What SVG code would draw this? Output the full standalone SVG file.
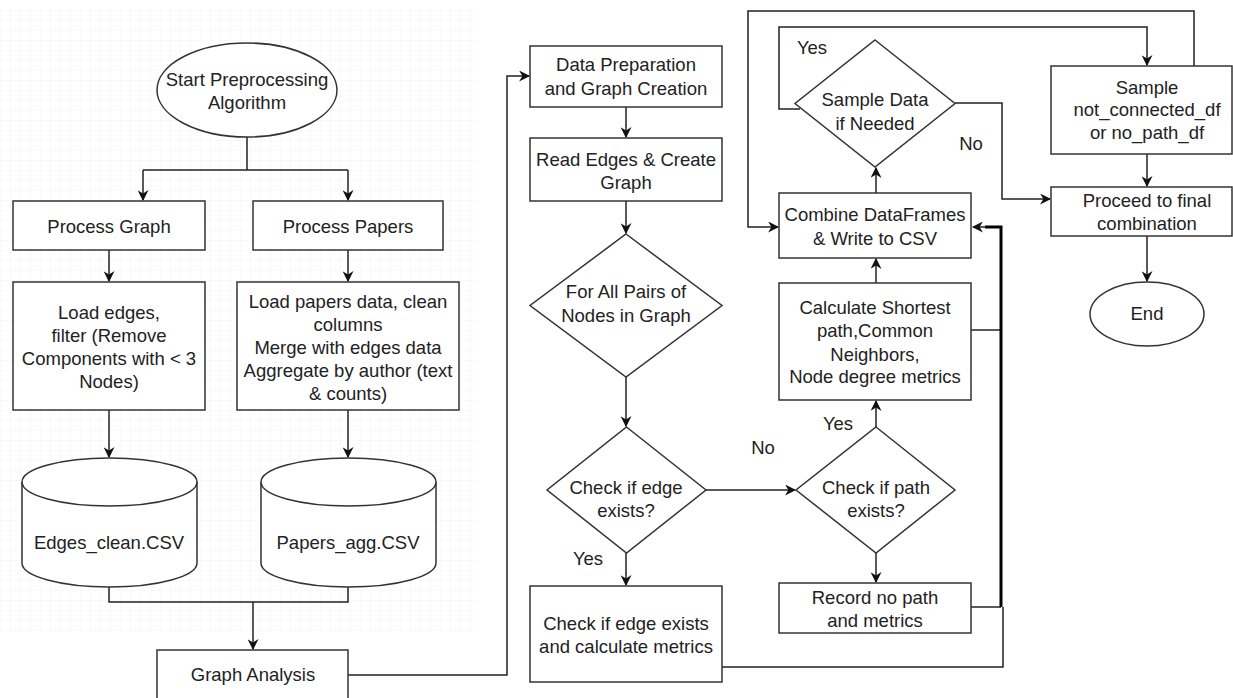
<svg xmlns="http://www.w3.org/2000/svg" width="1233" height="698" viewBox="0 0 1233 698">
<defs>
<pattern id="grid" width="10" height="10" patternUnits="userSpaceOnUse">
<path d="M10 0 L0 0 0 10" fill="none" stroke="#f3f3f3" stroke-width="1"/>
</pattern>
<marker id="arr" viewBox="0 0 10 10" refX="9" refY="5" markerWidth="11" markerHeight="11" markerUnits="userSpaceOnUse" orient="auto">
<path d="M0 0 L10 5 L0 10 L3 5 Z" fill="#111"/>
</marker>
</defs>
<style>
.n{fill:#fff;stroke:#333;stroke-width:1.5}
.t{font-family:"Liberation Sans",Arial,sans-serif;font-size:18.5px;fill:#222;text-anchor:middle;dominant-baseline:central}
.c{fill:none;stroke:#222;stroke-width:1.5}
</style>
<rect x="0" y="8" width="476" height="625" fill="url(#grid)"/>
<g id="connectors">
<path class="c" d="M247 137 V170 M143 170 H348" />
<path class="c" d="M143 170 V200" marker-end="url(#arr)"/>
<path class="c" d="M348 170 V200" marker-end="url(#arr)"/>
<path class="c" d="M109 250 V281" marker-end="url(#arr)"/>
<path class="c" d="M348 250 V281" marker-end="url(#arr)"/>
<path class="c" d="M109 410 V457" marker-end="url(#arr)"/>
<path class="c" d="M348 410 V457" marker-end="url(#arr)"/>
<path class="c" d="M109 587 V602 H348 V587"/>
<path class="c" d="M253 602 V649" marker-end="url(#arr)"/>
<path class="c" d="M348 675 H507 V76 H529" marker-end="url(#arr)"/>
<path class="c" d="M626 107 V137" marker-end="url(#arr)"/>
<path class="c" d="M626 201 V233" marker-end="url(#arr)"/>
<path class="c" d="M626 377 V426" marker-end="url(#arr)"/>
<path class="c" d="M706 490 H795" marker-end="url(#arr)"/>
<path class="c" d="M626 553 V585" marker-end="url(#arr)"/>
<path class="c" d="M876 427 V401" marker-end="url(#arr)"/>
<path class="c" d="M876 553 V582" marker-end="url(#arr)"/>
<path class="c" d="M876 283 V259" marker-end="url(#arr)"/>
<path class="c" d="M876 193 V168" marker-end="url(#arr)"/>
<path class="c" d="M722 667 H1003 V607"/>
<path class="c" d="M971 330 H1001"/>
<path class="c" d="M971 607 H1001"/>
<path fill="none" stroke="#000" stroke-width="3" d="M1001 607 V227 H985"/>
<path class="c" d="M986 227 H973" marker-end="url(#arr)"/>
<path class="c" d="M800 109 H779 V27 H1147 V65" marker-end="url(#arr)"/>
<path class="c" d="M1194 66 V11 H748 V227 H778" marker-end="url(#arr)"/>
<path class="c" d="M955 103 H1002 V199 H1050" marker-end="url(#arr)"/>
<path class="c" d="M1147 154 V186" marker-end="url(#arr)"/>
<path class="c" d="M1147 236 V281" marker-end="url(#arr)"/>
<text class="t" x="763" y="447">No</text>
<text class="t" x="588" y="558">Yes</text>
<text class="t" x="838" y="423">Yes</text>
<text class="t" x="812" y="47">Yes</text>
<text class="t" x="971" y="143">No</text>
</g>
<g id="start"><ellipse class="n" cx="247" cy="90" rx="90" ry="47"/><text class="t" x="247" y="79">Start Preprocessing</text><text class="t" x="247" y="102">Algorithm</text></g>
<g id="process-graph"><rect class="n" x="13" y="201" width="192" height="49"/><text class="t" x="109" y="226">Process Graph</text></g>
<g id="process-papers"><rect class="n" x="253" y="201" width="190" height="49"/><text class="t" x="348" y="226">Process Papers</text></g>
<g id="load-edges"><rect class="n" x="13" y="282" width="192" height="128"/><text class="t" x="109" y="312">Load edges,</text><text class="t" x="109" y="335">filter (Remove</text><text class="t" x="109" y="358">Components with &lt; 3</text><text class="t" x="109" y="381">Nodes)</text></g>
<g id="load-papers"><rect class="n" x="237" y="282" width="222" height="128"/><text class="t" x="348" y="301">Load papers data, clean</text><text class="t" x="348" y="324">columns</text><text class="t" x="348" y="347">Merge with edges data</text><text class="t" x="348" y="370">Aggregate by author (text</text><text class="t" x="348" y="393">&amp; counts)</text></g>
<g id="edges-clean"><path class="n" d="M22 482 A87.5 24 0 0 1 197 482 V563 A87.5 24 0 0 1 22 563 Z"/><path class="n" d="M22 482 A87.5 24 0 0 0 197 482" fill="none"/><text class="t" x="109" y="542">Edges_clean.CSV</text></g>
<g id="papers-agg"><path class="n" d="M261 482 A87.5 24 0 0 1 436 482 V563 A87.5 24 0 0 1 261 563 Z"/><path class="n" d="M261 482 A87.5 24 0 0 0 436 482" fill="none"/><text class="t" x="348" y="542">Papers_agg.CSV</text></g>
<g id="graph-analysis"><rect class="n" x="157" y="650" width="191" height="52"/><text class="t" x="253" y="674">Graph Analysis</text></g>
<g id="data-prep"><rect class="n" x="530" y="46" width="192" height="61"/><text class="t" x="626" y="64">Data Preparation</text><text class="t" x="626" y="88">and Graph Creation</text></g>
<g id="read-edges"><rect class="n" x="530" y="138" width="192" height="63"/><text class="t" x="626" y="159">Read Edges &amp; Create</text><text class="t" x="626" y="182">Graph</text></g>
<g id="for-all-pairs"><path class="n" d="M626 234 L722 305.5 L626 377 L530 305.5 Z"/><text class="t" x="626" y="291">For All Pairs of</text><text class="t" x="626" y="315">Nodes in Graph</text></g>
<g id="check-edge"><path class="n" d="M626.5 427 L706 490 L626.5 553 L547 490 Z"/><text class="t" x="626" y="487">Check if edge</text><text class="t" x="626" y="510">exists?</text></g>
<g id="check-edge-metrics"><rect class="n" x="530" y="586" width="192" height="96"/><text class="t" x="626" y="623">Check if edge exists</text><text class="t" x="626" y="646">and calculate metrics</text></g>
<g id="check-path"><path class="n" d="M876 427 L955 490 L876 553 L796 490 Z"/><text class="t" x="876" y="487">Check if path</text><text class="t" x="876" y="510">exists?</text></g>
<g id="record-no-path"><rect class="n" x="779" y="583" width="192" height="50"/><text class="t" x="875" y="597">Record no path</text><text class="t" x="875" y="620">and metrics</text></g>
<g id="calculate"><rect class="n" x="779" y="283" width="192" height="117"/><text class="t" x="875" y="307">Calculate Shortest</text><text class="t" x="875" y="330">path,Common</text><text class="t" x="875" y="354">Neighbors,</text><text class="t" x="875" y="376">Node degree metrics</text></g>
<g id="combine"><rect class="n" x="779" y="193" width="192" height="65"/><text class="t" x="875" y="214">Combine DataFrames</text><text class="t" x="875" y="238">&amp; Write to CSV</text></g>
<g id="sample-data"><path class="n" d="M875 40 L955 103.5 L875 167 L795 103.5 Z"/><text class="t" x="875" y="99">Sample Data</text><text class="t" x="875" y="123">if Needed</text></g>
<g id="sample-df"><rect class="n" x="1051" y="66" width="181" height="88"/><text class="t" x="1147" y="87">Sample</text><text class="t" x="1147" y="109">not_connected_df</text><text class="t" x="1147" y="132">or no_path_df</text></g>
<g id="proceed"><rect class="n" x="1051" y="187" width="181" height="49"/><text class="t" x="1147" y="200">Proceed to final</text><text class="t" x="1147" y="223">combination</text></g>
<g id="end"><ellipse class="n" cx="1147" cy="314" rx="57" ry="32"/><text class="t" x="1147" y="313">End</text></g>
</svg>
